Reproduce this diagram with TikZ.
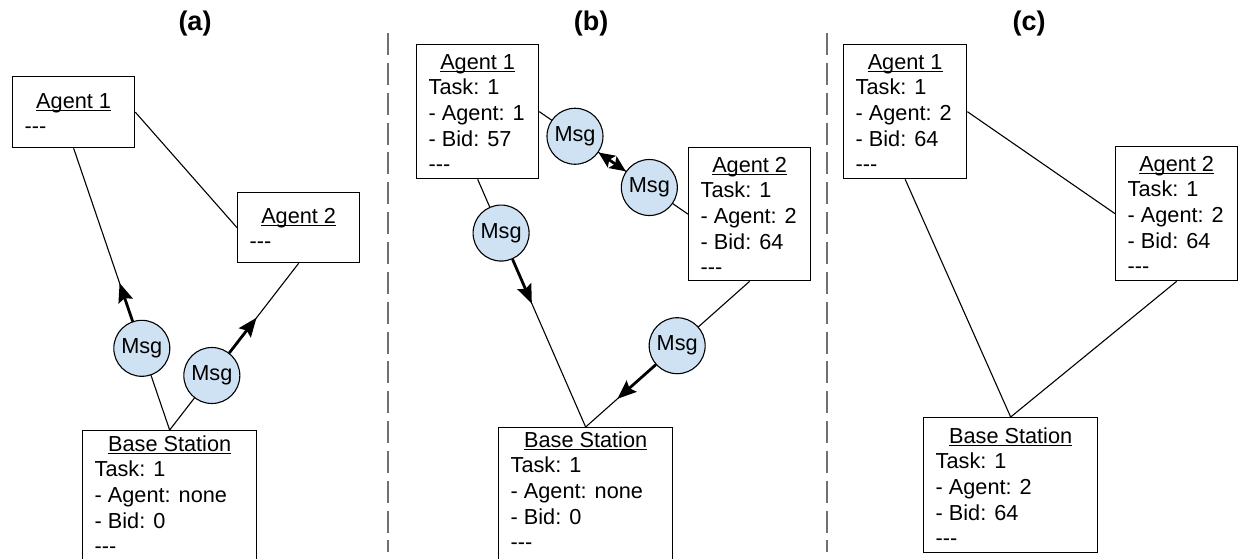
\documentclass[tikz,border=0pt]{standalone}
\usepackage{fontspec}
\setmainfont{Liberation Sans}
\usetikzlibrary{arrows.meta,calc}
\definecolor{msgblue}{HTML}{CFE2F3}
\definecolor{divgray}{HTML}{707070}
\tikzset{
  infobox/.style={draw=black, line width=1.3pt, anchor=north west, inner sep=0pt},
  ttl/.style={anchor=base, inner sep=0pt, font=\fontsize{21.7}{25}\selectfont},
  bodyline/.style={anchor=base west, inner sep=0pt, font=\fontsize{21.7}{25}\selectfont},
  msg/.style={circle, draw=black, line width=1.1pt, fill=msgblue, minimum size=56pt, inner sep=0pt, font=\fontsize{21.7}{25}\selectfont},
  link/.style={draw=black, line width=1.1pt},
  flow/.style={draw=black, line width=2.8pt, -{Stealth[length=19pt,width=15pt,inset=3pt]}},
  flowboth/.style={draw=black, line width=2.8pt, {Stealth[length=16pt,width=14pt,inset=3pt]}-{Stealth[length=16pt,width=14pt,inset=3pt]}},
  paneltitle/.style={anchor=base, inner sep=0pt, font=\fontsize{27}{32}\selectfont\bfseries},
  divider/.style={draw=divgray, line width=2.5pt, dash pattern=on 22pt off 7.85pt},
  uline/.style={draw=black, line width=1.2pt}
}
% name, x, y, width, height, title offset, title, lines
\newcommand{\drawinfobox}[8]{%
  \node[infobox, minimum width=#4pt, minimum height=#5pt] (#1) at (#2,#3) {};
  \node[ttl] (#1-t) at ($(#1.north)+(0,#6)$) {#7};
  \draw[uline] ([yshift=-2.8pt]#1-t.base west) -- ([yshift=-2.8pt]#1-t.base east);
  \foreach \t [count=\i] in {#8} {
    \node[bodyline] (#1-l\i) at ($(#1.north west)+(12.5,#6+\i*25.7)$) {\t};
  }%
}
\begin{document}
\begin{tikzpicture}[x=1pt,y=-1pt]
\useasboundingbox (0,0) rectangle (1238,558);
\clip (0,0) rectangle (1238,558);

% panel titles
\node[paneltitle] (ta) at (195,30) {(a)};
\node[paneltitle] (tb) at (591,30) {(b)};
\node[paneltitle] (tc) at (1029,30) {(c)};

% dividers
\draw[divider] (388,33) -- (388,552);
\draw[divider] (827,33) -- (827,552);

% ---------- panel (a)
\drawinfobox{a1}{12}{76}{122}{71}{32}{Agent 1}{-{}-{}-}
\drawinfobox{a2}{237}{192}{122}{70}{31}{Agent 2}{-{}-{}-}
\drawinfobox{ab}{82}{430}{174}{135}{21}{Base Station}{Task: 1, - Agent: none, - Bid: 0, -{}-{}-}

\draw[link] (a1.east) -- (a2.west);
\draw[link] (a1.south) -- (ab.north);
\draw[link] (a2.south) -- (ab.north);
\node[msg] (am1) at ($(a1.south)!0.71!(ab.north)$) {Msg};
\node[msg] (am2) at ($(a2.south)!0.673!(ab.north)$) {Msg};
\coordinate (am1tip) at ($(am1.center)!69pt!(a1.south)$);
\coordinate (am2tip) at ($(am2.center)!73pt!(a2.south)$);
\draw[flow] (am1) -- (am1tip);
\draw[flow] (am2) -- (am2tip);

% ---------- panel (b)
\drawinfobox{b1}{416}{44}{122}{134}{25}{Agent 1}{Task: 1, - Agent: 1, - Bid: 57, -{}-{}-}
\drawinfobox{b2}{688}{147}{122}{133}{25}{Agent 2}{Task: 1, - Agent: 2, - Bid: 64, -{}-{}-}
\drawinfobox{bb}{498}{427}{174}{135}{20}{Base Station}{Task: 1, - Agent: none, - Bid: 0, -{}-{}-}

\draw[link] (b1.east) -- (b2.west);
\draw[link] (b1.south) -- (bb.north);
\draw[link] (b2.south) -- (bb.north);
\node[msg] (bm1) at ($(b1.east)!0.24!(b2.west)$) {Msg};
\node[msg] (bm2) at ($(b1.east)!0.74!(b2.west)$) {Msg};
\node[msg] (bm3) at ($(b1.south)!0.217!(bb.north)$) {Msg};
\node[msg] (bm4) at ($(b2.south)!0.442!(bb.north)$) {Msg};
\coordinate (bm3tip) at ($(bm3.center)!77pt!(bb.north)$);
\coordinate (bm4tip) at ($(bm4.center)!80pt!(bb.north)$);
\draw[flowboth] (bm1) -- (bm2);
\draw[flow] (bm3) -- (bm3tip);
\draw[flow] (bm4) -- (bm4tip);

% ---------- panel (c)
\drawinfobox{c1}{843}{44}{123}{134}{25}{Agent 1}{Task: 1, - Agent: 2, - Bid: 64, -{}-{}-}
\drawinfobox{c2}{1115}{146}{122}{134}{25}{Agent 2}{Task: 1, - Agent: 2, - Bid: 64, -{}-{}-}
\drawinfobox{cb}{923}{417}{174}{135}{26}{Base Station}{Task: 1, - Agent: 2, - Bid: 64, -{}-{}-}

\draw[link] (c1.east) -- (c2.west);
\draw[link] (c1.south) -- (cb.north);
\draw[link] (c2.south) -- (cb.north);
\end{tikzpicture}
\end{document}
